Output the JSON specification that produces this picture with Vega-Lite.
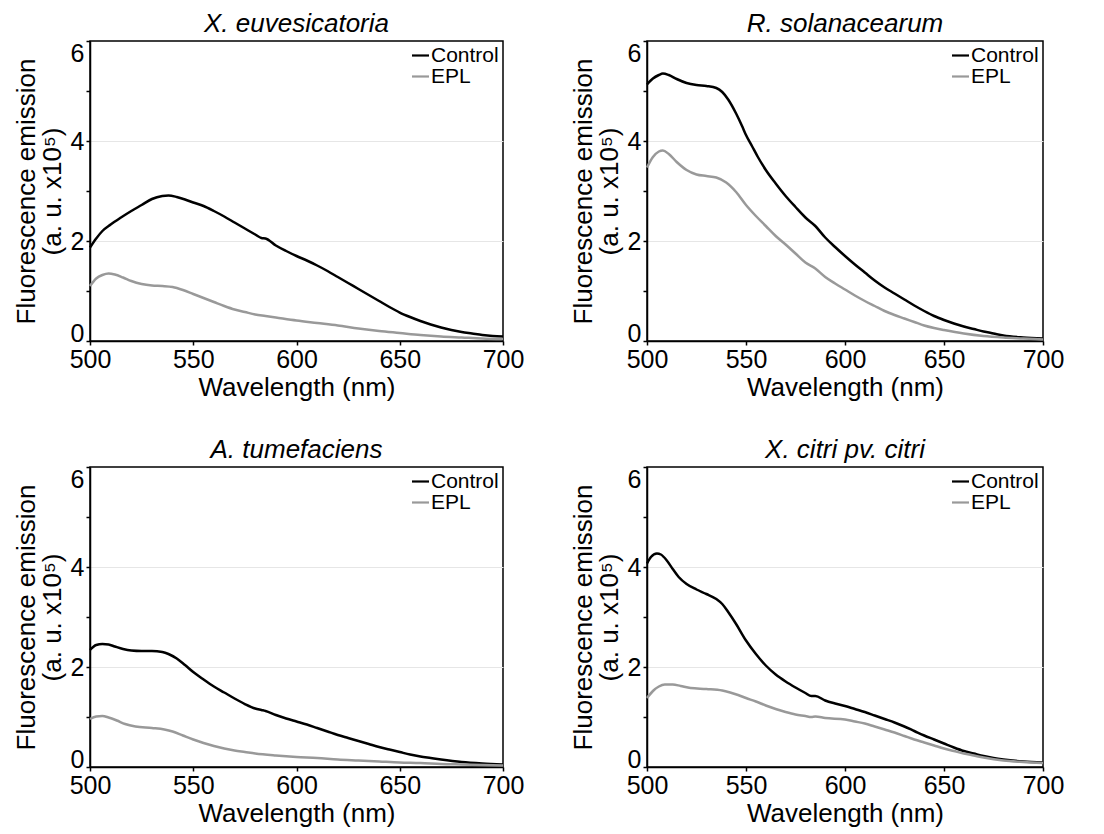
{
  "$schema": "https://vega.github.io/schema/vega-lite/v6.json",
  "background": "white",
  "padding": {"left": 12, "top": 10, "right": 2, "bottom": 2},
  "config": {
    "font": "Liberation Sans",
    "view": {"stroke": "#000000", "strokeWidth": 1.5},
    "title": {"fontSize": 26, "fontWeight": "normal", "fontStyle": "italic", "color": "#000000", "offset": 3, "font": "Liberation Sans"},
    "axis": {
      "domainColor": "#000000", "domainWidth": 1.5, "tickColor": "#000000", "tickWidth": 1.5, "tickSize": 4,
      "labelFontSize": 25, "labelColor": "#000000", "labelPadding": 2, "labelFont": "Liberation Sans",
      "titleFontSize": 26, "titleFontWeight": "normal", "titleColor": "#000000", "titleFont": "Liberation Sans",
      "labelOverlap": false, "labelFlush": false
    },
    "legend": {
      "orient": "top-right", "symbolType": "stroke", "symbolSize": 289, "symbolStrokeWidth": 2.2,
      "labelFontSize": 21, "labelColor": "#000000", "labelOffset": 0, "rowPadding": -3, "padding": 0, "offset": 4,
      "labelFont": "Liberation Sans"
    }
  },
  "datasets": {
    "xe": [
      {"series":"Control","wavelength":500,"emission":1.87},{"series":"Control","wavelength":503,"emission":2.05},{"series":"Control","wavelength":506,"emission":2.2},{"series":"Control","wavelength":510,"emission":2.33},{"series":"Control","wavelength":515,"emission":2.47},{"series":"Control","wavelength":520,"emission":2.6},{"series":"Control","wavelength":525,"emission":2.72},{"series":"Control","wavelength":530,"emission":2.84},{"series":"Control","wavelength":535,"emission":2.9},{"series":"Control","wavelength":538,"emission":2.91},{"series":"Control","wavelength":542,"emission":2.88},{"series":"Control","wavelength":546,"emission":2.83},{"series":"Control","wavelength":550,"emission":2.77},{"series":"Control","wavelength":555,"emission":2.7},{"series":"Control","wavelength":560,"emission":2.6},{"series":"Control","wavelength":565,"emission":2.49},{"series":"Control","wavelength":570,"emission":2.37},{"series":"Control","wavelength":575,"emission":2.25},{"series":"Control","wavelength":580,"emission":2.13},{"series":"Control","wavelength":583,"emission":2.06},{"series":"Control","wavelength":585,"emission":2.05},{"series":"Control","wavelength":590,"emission":1.91},{"series":"Control","wavelength":595,"emission":1.8},{"series":"Control","wavelength":600,"emission":1.7},{"series":"Control","wavelength":605,"emission":1.61},{"series":"Control","wavelength":610,"emission":1.51},{"series":"Control","wavelength":615,"emission":1.4},{"series":"Control","wavelength":620,"emission":1.28},{"series":"Control","wavelength":625,"emission":1.16},{"series":"Control","wavelength":630,"emission":1.04},{"series":"Control","wavelength":635,"emission":0.92},{"series":"Control","wavelength":640,"emission":0.8},{"series":"Control","wavelength":645,"emission":0.68},{"series":"Control","wavelength":650,"emission":0.57},{"series":"Control","wavelength":655,"emission":0.48},{"series":"Control","wavelength":660,"emission":0.4},{"series":"Control","wavelength":665,"emission":0.33},{"series":"Control","wavelength":670,"emission":0.27},{"series":"Control","wavelength":675,"emission":0.22},{"series":"Control","wavelength":680,"emission":0.18},{"series":"Control","wavelength":685,"emission":0.15},{"series":"Control","wavelength":690,"emission":0.12},{"series":"Control","wavelength":695,"emission":0.1},{"series":"Control","wavelength":700,"emission":0.09},
      {"series":"EPL","wavelength":500,"emission":1.1},{"series":"EPL","wavelength":503,"emission":1.25},{"series":"EPL","wavelength":506,"emission":1.32},{"series":"EPL","wavelength":509,"emission":1.35},{"series":"EPL","wavelength":512,"emission":1.33},{"series":"EPL","wavelength":516,"emission":1.27},{"series":"EPL","wavelength":520,"emission":1.2},{"series":"EPL","wavelength":525,"emission":1.14},{"series":"EPL","wavelength":530,"emission":1.11},{"series":"EPL","wavelength":535,"emission":1.1},{"series":"EPL","wavelength":540,"emission":1.08},{"series":"EPL","wavelength":545,"emission":1.02},{"series":"EPL","wavelength":550,"emission":0.94},{"series":"EPL","wavelength":555,"emission":0.86},{"series":"EPL","wavelength":560,"emission":0.78},{"series":"EPL","wavelength":565,"emission":0.7},{"series":"EPL","wavelength":570,"emission":0.63},{"series":"EPL","wavelength":575,"emission":0.58},{"series":"EPL","wavelength":580,"emission":0.53},{"series":"EPL","wavelength":585,"emission":0.5},{"series":"EPL","wavelength":590,"emission":0.47},{"series":"EPL","wavelength":600,"emission":0.41},{"series":"EPL","wavelength":610,"emission":0.36},{"series":"EPL","wavelength":620,"emission":0.31},{"series":"EPL","wavelength":630,"emission":0.25},{"series":"EPL","wavelength":640,"emission":0.2},{"series":"EPL","wavelength":650,"emission":0.16},{"series":"EPL","wavelength":660,"emission":0.12},{"series":"EPL","wavelength":670,"emission":0.09},{"series":"EPL","wavelength":680,"emission":0.07},{"series":"EPL","wavelength":690,"emission":0.05},{"series":"EPL","wavelength":700,"emission":0.04}
    ],
    "rs": [
      {"series":"Control","wavelength":500,"emission":5.13},{"series":"Control","wavelength":503,"emission":5.25},{"series":"Control","wavelength":506,"emission":5.32},{"series":"Control","wavelength":508,"emission":5.35},{"series":"Control","wavelength":511,"emission":5.32},{"series":"Control","wavelength":515,"emission":5.24},{"series":"Control","wavelength":520,"emission":5.16},{"series":"Control","wavelength":525,"emission":5.12},{"series":"Control","wavelength":530,"emission":5.1},{"series":"Control","wavelength":535,"emission":5.06},{"series":"Control","wavelength":538,"emission":4.98},{"series":"Control","wavelength":541,"emission":4.83},{"series":"Control","wavelength":545,"emission":4.55},{"series":"Control","wavelength":548,"emission":4.3},{"series":"Control","wavelength":550,"emission":4.12},{"series":"Control","wavelength":553,"emission":3.9},{"series":"Control","wavelength":556,"emission":3.68},{"series":"Control","wavelength":560,"emission":3.42},{"series":"Control","wavelength":565,"emission":3.15},{"series":"Control","wavelength":570,"emission":2.9},{"series":"Control","wavelength":575,"emission":2.68},{"series":"Control","wavelength":580,"emission":2.47},{"series":"Control","wavelength":585,"emission":2.3},{"series":"Control","wavelength":590,"emission":2.07},{"series":"Control","wavelength":595,"emission":1.88},{"series":"Control","wavelength":600,"emission":1.7},{"series":"Control","wavelength":605,"emission":1.53},{"series":"Control","wavelength":610,"emission":1.37},{"series":"Control","wavelength":615,"emission":1.21},{"series":"Control","wavelength":620,"emission":1.07},{"series":"Control","wavelength":625,"emission":0.95},{"series":"Control","wavelength":630,"emission":0.83},{"series":"Control","wavelength":635,"emission":0.71},{"series":"Control","wavelength":640,"emission":0.6},{"series":"Control","wavelength":645,"emission":0.5},{"series":"Control","wavelength":650,"emission":0.42},{"series":"Control","wavelength":655,"emission":0.35},{"series":"Control","wavelength":660,"emission":0.29},{"series":"Control","wavelength":665,"emission":0.24},{"series":"Control","wavelength":670,"emission":0.19},{"series":"Control","wavelength":675,"emission":0.15},{"series":"Control","wavelength":680,"emission":0.11},{"series":"Control","wavelength":690,"emission":0.07},{"series":"Control","wavelength":700,"emission":0.05},
      {"series":"EPL","wavelength":500,"emission":3.47},{"series":"EPL","wavelength":503,"emission":3.68},{"series":"EPL","wavelength":506,"emission":3.79},{"series":"EPL","wavelength":508,"emission":3.81},{"series":"EPL","wavelength":511,"emission":3.74},{"series":"EPL","wavelength":515,"emission":3.58},{"series":"EPL","wavelength":520,"emission":3.42},{"series":"EPL","wavelength":525,"emission":3.33},{"series":"EPL","wavelength":530,"emission":3.3},{"series":"EPL","wavelength":535,"emission":3.27},{"series":"EPL","wavelength":540,"emission":3.17},{"series":"EPL","wavelength":545,"emission":2.98},{"series":"EPL","wavelength":550,"emission":2.72},{"series":"EPL","wavelength":555,"emission":2.5},{"series":"EPL","wavelength":560,"emission":2.3},{"series":"EPL","wavelength":565,"emission":2.1},{"series":"EPL","wavelength":570,"emission":1.93},{"series":"EPL","wavelength":575,"emission":1.75},{"series":"EPL","wavelength":580,"emission":1.57},{"series":"EPL","wavelength":585,"emission":1.45},{"series":"EPL","wavelength":590,"emission":1.28},{"series":"EPL","wavelength":595,"emission":1.15},{"series":"EPL","wavelength":600,"emission":1.03},{"series":"EPL","wavelength":605,"emission":0.91},{"series":"EPL","wavelength":610,"emission":0.8},{"series":"EPL","wavelength":615,"emission":0.7},{"series":"EPL","wavelength":620,"emission":0.6},{"series":"EPL","wavelength":625,"emission":0.52},{"series":"EPL","wavelength":630,"emission":0.45},{"series":"EPL","wavelength":635,"emission":0.38},{"series":"EPL","wavelength":640,"emission":0.31},{"series":"EPL","wavelength":645,"emission":0.26},{"series":"EPL","wavelength":650,"emission":0.22},{"series":"EPL","wavelength":660,"emission":0.15},{"series":"EPL","wavelength":670,"emission":0.1},{"series":"EPL","wavelength":680,"emission":0.07},{"series":"EPL","wavelength":690,"emission":0.05},{"series":"EPL","wavelength":700,"emission":0.03}
    ],
    "at": [
      {"series":"Control","wavelength":500,"emission":2.34},{"series":"Control","wavelength":503,"emission":2.44},{"series":"Control","wavelength":506,"emission":2.46},{"series":"Control","wavelength":509,"emission":2.45},{"series":"Control","wavelength":512,"emission":2.41},{"series":"Control","wavelength":516,"emission":2.36},{"series":"Control","wavelength":520,"emission":2.33},{"series":"Control","wavelength":525,"emission":2.32},{"series":"Control","wavelength":530,"emission":2.32},{"series":"Control","wavelength":535,"emission":2.3},{"series":"Control","wavelength":538,"emission":2.26},{"series":"Control","wavelength":542,"emission":2.17},{"series":"Control","wavelength":546,"emission":2.04},{"series":"Control","wavelength":550,"emission":1.9},{"series":"Control","wavelength":555,"emission":1.75},{"series":"Control","wavelength":560,"emission":1.61},{"series":"Control","wavelength":565,"emission":1.49},{"series":"Control","wavelength":570,"emission":1.37},{"series":"Control","wavelength":575,"emission":1.26},{"series":"Control","wavelength":580,"emission":1.17},{"series":"Control","wavelength":583,"emission":1.14},{"series":"Control","wavelength":585,"emission":1.12},{"series":"Control","wavelength":590,"emission":1.04},{"series":"Control","wavelength":595,"emission":0.97},{"series":"Control","wavelength":600,"emission":0.91},{"series":"Control","wavelength":605,"emission":0.85},{"series":"Control","wavelength":610,"emission":0.78},{"series":"Control","wavelength":615,"emission":0.71},{"series":"Control","wavelength":620,"emission":0.64},{"series":"Control","wavelength":625,"emission":0.58},{"series":"Control","wavelength":630,"emission":0.52},{"series":"Control","wavelength":635,"emission":0.46},{"series":"Control","wavelength":640,"emission":0.4},{"series":"Control","wavelength":645,"emission":0.35},{"series":"Control","wavelength":650,"emission":0.3},{"series":"Control","wavelength":655,"emission":0.25},{"series":"Control","wavelength":660,"emission":0.21},{"series":"Control","wavelength":665,"emission":0.18},{"series":"Control","wavelength":670,"emission":0.15},{"series":"Control","wavelength":680,"emission":0.1},{"series":"Control","wavelength":690,"emission":0.07},{"series":"Control","wavelength":700,"emission":0.05},
      {"series":"EPL","wavelength":500,"emission":0.96},{"series":"EPL","wavelength":503,"emission":1.01},{"series":"EPL","wavelength":506,"emission":1.02},{"series":"EPL","wavelength":509,"emission":0.99},{"series":"EPL","wavelength":513,"emission":0.93},{"series":"EPL","wavelength":517,"emission":0.86},{"series":"EPL","wavelength":522,"emission":0.81},{"series":"EPL","wavelength":530,"emission":0.78},{"series":"EPL","wavelength":536,"emission":0.75},{"series":"EPL","wavelength":540,"emission":0.71},{"series":"EPL","wavelength":545,"emission":0.63},{"series":"EPL","wavelength":550,"emission":0.55},{"series":"EPL","wavelength":555,"emission":0.48},{"series":"EPL","wavelength":560,"emission":0.42},{"series":"EPL","wavelength":565,"emission":0.37},{"series":"EPL","wavelength":570,"emission":0.33},{"series":"EPL","wavelength":575,"emission":0.3},{"series":"EPL","wavelength":580,"emission":0.27},{"series":"EPL","wavelength":590,"emission":0.23},{"series":"EPL","wavelength":600,"emission":0.2},{"series":"EPL","wavelength":610,"emission":0.18},{"series":"EPL","wavelength":620,"emission":0.15},{"series":"EPL","wavelength":630,"emission":0.13},{"series":"EPL","wavelength":640,"emission":0.11},{"series":"EPL","wavelength":650,"emission":0.09},{"series":"EPL","wavelength":660,"emission":0.08},{"series":"EPL","wavelength":670,"emission":0.06},{"series":"EPL","wavelength":680,"emission":0.05},{"series":"EPL","wavelength":690,"emission":0.04},{"series":"EPL","wavelength":700,"emission":0.03}
    ],
    "xc": [
      {"series":"Control","wavelength":500,"emission":4.07},{"series":"Control","wavelength":502,"emission":4.2},{"series":"Control","wavelength":505,"emission":4.27},{"series":"Control","wavelength":507,"emission":4.25},{"series":"Control","wavelength":510,"emission":4.13},{"series":"Control","wavelength":513,"emission":3.96},{"series":"Control","wavelength":516,"emission":3.8},{"series":"Control","wavelength":520,"emission":3.66},{"series":"Control","wavelength":525,"emission":3.55},{"series":"Control","wavelength":530,"emission":3.46},{"series":"Control","wavelength":535,"emission":3.36},{"series":"Control","wavelength":538,"emission":3.26},{"series":"Control","wavelength":541,"emission":3.1},{"series":"Control","wavelength":545,"emission":2.86},{"series":"Control","wavelength":550,"emission":2.53},{"series":"Control","wavelength":555,"emission":2.26},{"series":"Control","wavelength":560,"emission":2.03},{"series":"Control","wavelength":565,"emission":1.85},{"series":"Control","wavelength":570,"emission":1.71},{"series":"Control","wavelength":575,"emission":1.59},{"series":"Control","wavelength":580,"emission":1.48},{"series":"Control","wavelength":583,"emission":1.42},{"series":"Control","wavelength":585,"emission":1.42},{"series":"Control","wavelength":590,"emission":1.33},{"series":"Control","wavelength":595,"emission":1.27},{"series":"Control","wavelength":600,"emission":1.22},{"series":"Control","wavelength":605,"emission":1.16},{"series":"Control","wavelength":610,"emission":1.1},{"series":"Control","wavelength":615,"emission":1.03},{"series":"Control","wavelength":620,"emission":0.96},{"series":"Control","wavelength":625,"emission":0.89},{"series":"Control","wavelength":630,"emission":0.81},{"series":"Control","wavelength":635,"emission":0.72},{"series":"Control","wavelength":640,"emission":0.63},{"series":"Control","wavelength":645,"emission":0.55},{"series":"Control","wavelength":650,"emission":0.47},{"series":"Control","wavelength":655,"emission":0.39},{"series":"Control","wavelength":660,"emission":0.32},{"series":"Control","wavelength":665,"emission":0.27},{"series":"Control","wavelength":670,"emission":0.22},{"series":"Control","wavelength":675,"emission":0.18},{"series":"Control","wavelength":680,"emission":0.15},{"series":"Control","wavelength":690,"emission":0.11},{"series":"Control","wavelength":700,"emission":0.09},
      {"series":"EPL","wavelength":500,"emission":1.38},{"series":"EPL","wavelength":503,"emission":1.52},{"series":"EPL","wavelength":506,"emission":1.61},{"series":"EPL","wavelength":509,"emission":1.65},{"series":"EPL","wavelength":513,"emission":1.65},{"series":"EPL","wavelength":517,"emission":1.62},{"series":"EPL","wavelength":522,"emission":1.58},{"series":"EPL","wavelength":530,"emission":1.56},{"series":"EPL","wavelength":538,"emission":1.53},{"series":"EPL","wavelength":542,"emission":1.49},{"series":"EPL","wavelength":546,"emission":1.44},{"series":"EPL","wavelength":550,"emission":1.38},{"series":"EPL","wavelength":555,"emission":1.31},{"series":"EPL","wavelength":560,"emission":1.23},{"series":"EPL","wavelength":565,"emission":1.16},{"series":"EPL","wavelength":570,"emission":1.1},{"series":"EPL","wavelength":575,"emission":1.05},{"series":"EPL","wavelength":580,"emission":1.02},{"series":"EPL","wavelength":583,"emission":1.0},{"series":"EPL","wavelength":585,"emission":1.01},{"series":"EPL","wavelength":590,"emission":0.98},{"series":"EPL","wavelength":600,"emission":0.95},{"series":"EPL","wavelength":605,"emission":0.91},{"series":"EPL","wavelength":610,"emission":0.87},{"series":"EPL","wavelength":615,"emission":0.81},{"series":"EPL","wavelength":620,"emission":0.75},{"series":"EPL","wavelength":625,"emission":0.69},{"series":"EPL","wavelength":630,"emission":0.62},{"series":"EPL","wavelength":635,"emission":0.55},{"series":"EPL","wavelength":640,"emission":0.49},{"series":"EPL","wavelength":645,"emission":0.43},{"series":"EPL","wavelength":650,"emission":0.37},{"series":"EPL","wavelength":655,"emission":0.32},{"series":"EPL","wavelength":660,"emission":0.27},{"series":"EPL","wavelength":665,"emission":0.23},{"series":"EPL","wavelength":670,"emission":0.19},{"series":"EPL","wavelength":680,"emission":0.13},{"series":"EPL","wavelength":690,"emission":0.1},{"series":"EPL","wavelength":700,"emission":0.08}
    ]
  },
  "columns": 2,
  "bounds": "flush",
  "spacing": {"row": 126, "column": 144},
  "resolve": {"scale": {"color": "independent"}, "legend": {"color": "independent"}},
  "concat": [
    {
      "title": {"text": "X. euvesicatoria"},
      "width": 413, "height": 300,
      "data": {"name": "xe"},
      "mark": {"type": "line", "strokeWidth": 2.5, "interpolate": "monotone"},
      "encoding": {
        "x": {"field": "wavelength", "type": "quantitative", "scale": {"domain": [500, 700], "nice": false, "zero": false}, "axis": {"title": "Wavelength (nm)", "values": [500, 550, 600, 650, 700], "grid": false, "titlePadding": 2}},
        "y": {"field": "emission", "type": "quantitative", "scale": {"domain": [0, 6], "nice": false}, "axis": {"title": ["Fluorescence emission", "(a. u. x10⁵)"], "titleLineHeight": 26, "titlePadding": 5, "values": [0, 1, 2, 3, 4, 5, 6], "labelExpr": "datum.value % 2 === 0 ? datum.label : ''", "labelBaseline": {"condition": [{"test": "datum.value === 0", "value": "alphabetic"}, {"test": "datum.value === 6", "value": "top"}], "value": "middle"}, "grid": true, "gridColor": "#e6e6e6", "gridWidth": 1, "gridOpacity": {"condition": {"test": "datum.value === 2 || datum.value === 4", "value": 1}, "value": 0}}},
        "color": {"field": "series", "type": "nominal", "scale": {"domain": ["Control", "EPL"], "range": ["#000000", "#999999"]}, "legend": {"title": null}}
      }
    },
    {
      "title": {"text": "R. solanacearum"},
      "width": 396, "height": 300,
      "data": {"name": "rs"},
      "mark": {"type": "line", "strokeWidth": 2.5, "interpolate": "monotone"},
      "encoding": {
        "x": {"field": "wavelength", "type": "quantitative", "scale": {"domain": [500, 700], "nice": false, "zero": false}, "axis": {"title": "Wavelength (nm)", "values": [500, 550, 600, 650, 700], "grid": false, "titlePadding": 2}},
        "y": {"field": "emission", "type": "quantitative", "scale": {"domain": [0, 6], "nice": false}, "axis": {"title": ["Fluorescence emission", "(a. u. x10⁵)"], "titleLineHeight": 26, "titlePadding": 5, "values": [0, 1, 2, 3, 4, 5, 6], "labelExpr": "datum.value % 2 === 0 ? datum.label : ''", "labelBaseline": {"condition": [{"test": "datum.value === 0", "value": "alphabetic"}, {"test": "datum.value === 6", "value": "top"}], "value": "middle"}, "grid": true, "gridColor": "#e6e6e6", "gridWidth": 1, "gridOpacity": {"condition": {"test": "datum.value === 2 || datum.value === 4", "value": 1}, "value": 0}}},
        "color": {"field": "series", "type": "nominal", "scale": {"domain": ["Control", "EPL"], "range": ["#000000", "#999999"]}, "legend": {"title": null}}
      }
    },
    {
      "title": {"text": "A. tumefaciens"},
      "width": 413, "height": 300,
      "data": {"name": "at"},
      "mark": {"type": "line", "strokeWidth": 2.5, "interpolate": "monotone"},
      "encoding": {
        "x": {"field": "wavelength", "type": "quantitative", "scale": {"domain": [500, 700], "nice": false, "zero": false}, "axis": {"title": "Wavelength (nm)", "values": [500, 550, 600, 650, 700], "grid": false, "titlePadding": 2}},
        "y": {"field": "emission", "type": "quantitative", "scale": {"domain": [0, 6], "nice": false}, "axis": {"title": ["Fluorescence emission", "(a. u. x10⁵)"], "titleLineHeight": 26, "titlePadding": 5, "values": [0, 1, 2, 3, 4, 5, 6], "labelExpr": "datum.value % 2 === 0 ? datum.label : ''", "labelBaseline": {"condition": [{"test": "datum.value === 0", "value": "alphabetic"}, {"test": "datum.value === 6", "value": "top"}], "value": "middle"}, "grid": true, "gridColor": "#e6e6e6", "gridWidth": 1, "gridOpacity": {"condition": {"test": "datum.value === 2 || datum.value === 4", "value": 1}, "value": 0}}},
        "color": {"field": "series", "type": "nominal", "scale": {"domain": ["Control", "EPL"], "range": ["#000000", "#999999"]}, "legend": {"title": null}}
      }
    },
    {
      "title": {"text": "X. citri pv. citri"},
      "width": 396, "height": 300,
      "data": {"name": "xc"},
      "mark": {"type": "line", "strokeWidth": 2.5, "interpolate": "monotone"},
      "encoding": {
        "x": {"field": "wavelength", "type": "quantitative", "scale": {"domain": [500, 700], "nice": false, "zero": false}, "axis": {"title": "Wavelength (nm)", "values": [500, 550, 600, 650, 700], "grid": false, "titlePadding": 2}},
        "y": {"field": "emission", "type": "quantitative", "scale": {"domain": [0, 6], "nice": false}, "axis": {"title": ["Fluorescence emission", "(a. u. x10⁵)"], "titleLineHeight": 26, "titlePadding": 5, "values": [0, 1, 2, 3, 4, 5, 6], "labelExpr": "datum.value % 2 === 0 ? datum.label : ''", "labelBaseline": {"condition": [{"test": "datum.value === 0", "value": "alphabetic"}, {"test": "datum.value === 6", "value": "top"}], "value": "middle"}, "grid": true, "gridColor": "#e6e6e6", "gridWidth": 1, "gridOpacity": {"condition": {"test": "datum.value === 2 || datum.value === 4", "value": 1}, "value": 0}}},
        "color": {"field": "series", "type": "nominal", "scale": {"domain": ["Control", "EPL"], "range": ["#000000", "#999999"]}, "legend": {"title": null}}
      }
    }
  ]
}
